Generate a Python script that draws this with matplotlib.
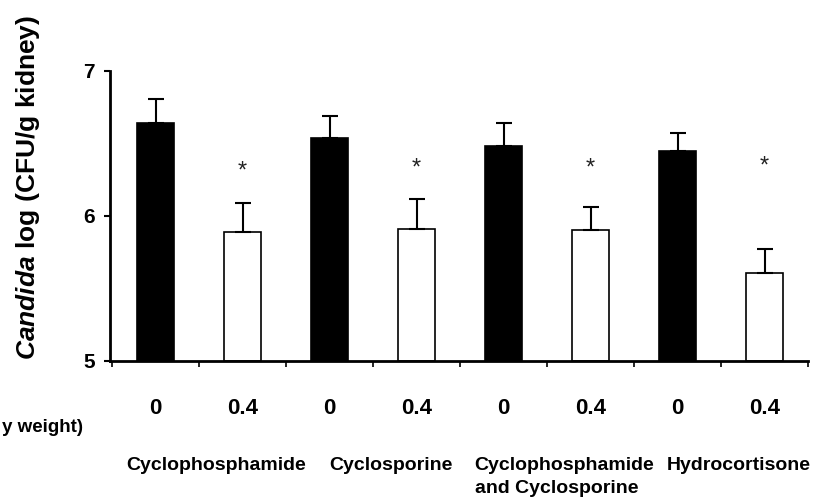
import matplotlib
matplotlib.use("Agg")
import matplotlib.pyplot as plt
import numpy as np

# ---- data ----
groups = ["Cyclophosphamide", "Cyclosporine", "Cyclophosphamide\nand Cyclosporine", "Hydrocortisone"]
doses = ["0", "0.4"]
control_means = [6.64, 6.54, 6.48, 6.45]
control_err = [0.17, 0.15, 0.16, 0.12]
treated_means = [5.89, 5.91, 5.90, 5.61]
treated_err = [0.20, 0.21, 0.16, 0.16]
star_y = [6.31, 6.33, 6.33, 6.34]
yticks = [5, 6, 7]

plt.rcParams["font.family"] = ["Liberation Sans", "DejaVu Sans"]
plt.rcParams["mathtext.fontset"] = "custom"
plt.rcParams["mathtext.it"] = "Liberation Sans:italic:bold"
plt.rcParams["mathtext.rm"] = "Liberation Sans:bold"
plt.rcParams["mathtext.bf"] = "Liberation Sans:bold"

fig = plt.figure(figsize=(8.26, 4.97), dpi=100)
ax = fig.add_axes([110 / 826, 1 - 361 / 497, (808 - 110) / 826, (361 - 71) / 497])

n = len(groups)
pos_c = np.arange(n) * 2 + 0.5
pos_t = np.arange(n) * 2 + 1.5
w = 0.42
ekw = dict(elinewidth=1.5, capthick=1.5, ecolor="black")
ax.bar(pos_c, np.array(control_means) - 5, bottom=5, width=w, color="black",
       edgecolor="black", linewidth=1.2,
       yerr=[np.zeros(n), control_err], capsize=5.5, error_kw=ekw, zorder=2)
ax.bar(pos_t, np.array(treated_means) - 5, bottom=5, width=w, color="white",
       edgecolor="black", linewidth=1.2,
       yerr=[np.zeros(n), treated_err], capsize=5.5, error_kw=ekw, zorder=2)

for x, y in zip(pos_t, star_y):
    ax.text(x, y, "*", ha="center", va="center", fontsize=17, color="#222222")

ax.set_xlim(-0.025, 8.0)
ax.set_ylim(5, 7)
ax.set_yticks(yticks)
ax.set_yticklabels([str(t) for t in yticks], fontsize=15, fontweight="bold")
ax.tick_params(axis="y", direction="out", length=4, width=1.5, pad=7)

centers = np.sort(np.concatenate([pos_c, pos_t]))
ax.set_xticks(centers)
ax.set_xticklabels(doses * n, fontsize=16, fontweight="bold")
ax.tick_params(axis="x", which="major", length=0, pad=27)
ax.set_xticks(np.arange(0, 2 * n + 1), minor=True)
ax.tick_params(axis="x", which="minor", direction="out", length=4, width=1.2)

for s in ["top", "right"]:
    ax.spines[s].set_visible(False)
for s in ["left", "bottom"]:
    ax.spines[s].set_linewidth(2)

fig.text(28 / 826, 1 - 187 / 497, r"$\it{Candida}$ log (CFU/g kidney)",
         rotation=90, ha="center", va="center", fontsize=19, fontweight="bold")

trans = ax.get_xaxis_transform()
for i, g in enumerate(groups):
    ax.text(2 * i + 1 + 0.2, -0.33, g, transform=trans, ha="center", va="top",
            multialignment="left", fontsize=14, fontweight="bold",
            linespacing=1.45)

fig.text(83 / 826, 1 - 428 / 497, "y weight)", ha="right", va="center",
         fontsize=13.5, fontweight="bold")

fig.savefig("out.png", dpi=100)
